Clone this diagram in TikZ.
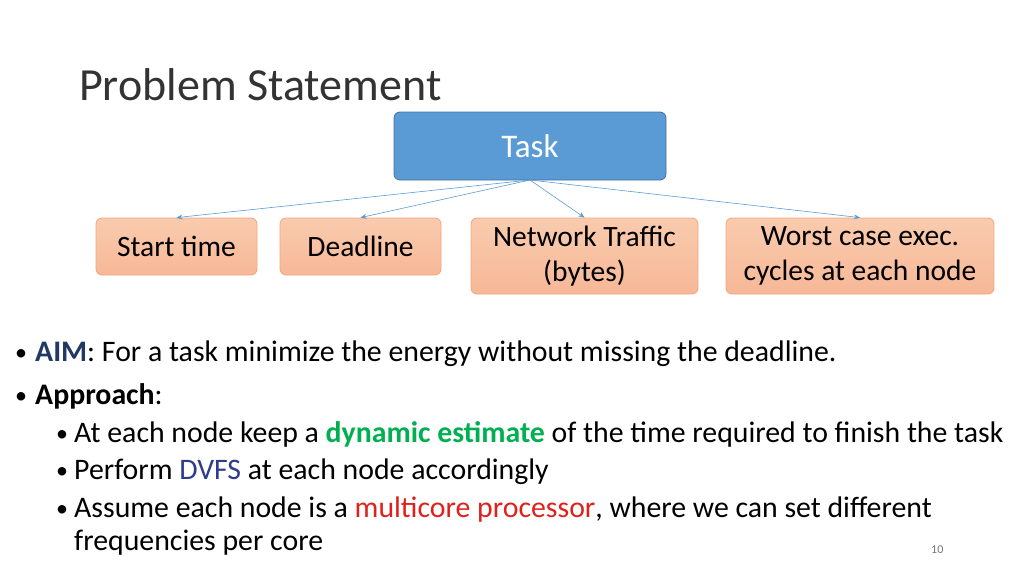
\documentclass[tikz,border=0pt]{standalone}
\usetikzlibrary{arrows.meta}
\usepackage{fontspec}
\setmainfont{Carlito}
\definecolor{taskfill}{HTML}{5B9BD5}
\definecolor{taskdraw}{HTML}{41719C}
\definecolor{ofill}{HTML}{F7B897}
\definecolor{ofilltop}{HTML}{F9CBAE}
\definecolor{odraw}{HTML}{F4A57C}
\definecolor{aimblue}{HTML}{1F3864}
\definecolor{dgreen}{HTML}{00B050}
\definecolor{dvfs}{HTML}{2F3C8C}
\definecolor{mred}{HTML}{E0201B}
\definecolor{arr}{HTML}{5B9BD5}
\begin{document}
\begin{tikzpicture}[x=1pt,y=-1pt,
  taskbox/.style={draw=taskdraw,fill=taskfill,rounded corners=6pt,line width=0.8pt,text=white,font=\fontsize{33}{36}\selectfont},
  obox/.style={draw=odraw,top color=ofilltop,bottom color=ofill,rounded corners=6pt,line width=0.8pt,font=\fontsize{29.5}{35}\selectfont,align=center},
  link/.style={draw=arr,line width=0.6pt,-{Stealth[length=6pt,width=5pt]}},
  txt/.style={anchor=base west,inner sep=0pt,font=\fontsize{29.8}{32}\selectfont},
  bul/.style={anchor=base west,inner sep=0pt,font=\fontsize{24}{28}\selectfont}]
\useasboundingbox (0,0) rectangle (1024,576);
\node[anchor=base west,inner sep=0pt,font=\fontsize{46}{50}\selectfont,text=black!80] (title) at (79,100) {Problem Statement};
\node[taskbox,minimum width=272pt,minimum height=68pt] (task) at (530,146) {Task};
\node[obox,minimum width=161pt,minimum height=57pt] (st) at (176.5,246.5) {Start time};
\node[obox,minimum width=161pt,minimum height=57pt] (dl) at (360.5,246.5) {Deadline};
\node[obox,minimum width=227pt,minimum height=76pt] (nt) at (584.5,256) {Network Traffic\\(bytes)};
\node[obox,minimum width=268pt,minimum height=76pt] (wc) at (860,256) {Worst case exec.\\cycles at each node};
\coordinate (tb) at (530,180);
\draw[link] (tb) -- (st.north);
\draw[link] (tb) -- (dl.north);
\draw[link] (tb) -- (nt.north);
\draw[link] (tb) -- (wc.north);
\node[bul] (b1) at (15,360) {•};
\node[txt] (t1) at (35,361) {\textcolor{aimblue}{\textbf{AIM}}: For a task minimize the energy without missing the deadline.};
\node[bul] (b2) at (15,403) {•};
\node[txt] (t2) at (35,404) {\textbf{Approach}:};
\node[bul] (b3) at (56,441) {•};
\node[txt] (t3) at (74,442) {At each node keep a \textcolor{dgreen}{\textbf{dynamic estimate}} of the time required to finish the task};
\node[bul] (b4) at (56,478) {•};
\node[txt] (t4) at (74,479) {Perform \textcolor{dvfs}{DVFS} at each node accordingly};
\node[bul] (b5) at (56,516) {•};
\node[txt] (t5) at (74,517) {Assume each node is a \textcolor{mred}{multicore processor}, where we can set different};
\node[txt] (t6) at (74,550) {frequencies per core};
\node[anchor=base west,inner sep=0pt,font=\fontsize{12}{14}\selectfont,text=black!55] (pg) at (931,553) {10};
\end{tikzpicture}
\end{document}
